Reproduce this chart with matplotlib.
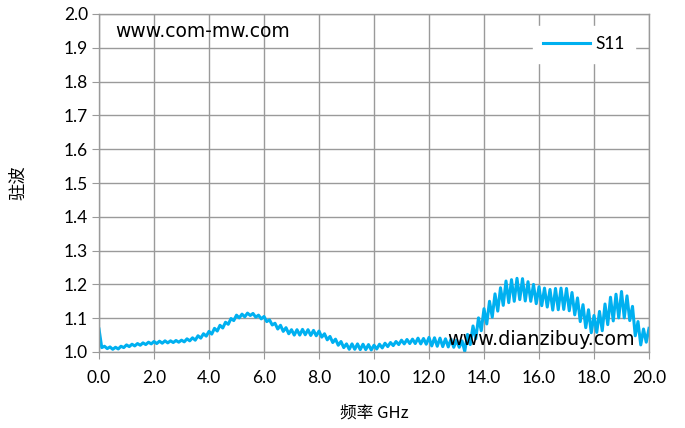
import matplotlib
matplotlib.use("Agg")
import matplotlib.pyplot as plt
import numpy as np

# S11 VSWR, one value every 0.1 GHz (0.0 .. 20.0)
FREQ_GHZ = np.round(np.arange(0, 201) * 0.1, 1)
VSWR = [
    1.068, 1.013, 1.017, 1.010, 1.015, 1.008, 1.014, 1.009, 1.017, 1.013,
    1.021, 1.016, 1.023, 1.018, 1.025, 1.020, 1.027, 1.022, 1.029, 1.024,
    1.031, 1.025, 1.032, 1.026, 1.033, 1.027, 1.033, 1.028, 1.034, 1.029,
    1.035, 1.030, 1.039, 1.033, 1.042, 1.035, 1.048, 1.041, 1.054, 1.047,
    1.061, 1.053, 1.070, 1.062, 1.079, 1.071, 1.088, 1.082, 1.099, 1.093,
    1.109, 1.101, 1.112, 1.104, 1.115, 1.108, 1.114, 1.103, 1.109, 1.098,
    1.105, 1.090, 1.095, 1.080, 1.085, 1.068, 1.079, 1.061, 1.072, 1.054,
    1.066, 1.050, 1.066, 1.050, 1.067, 1.051, 1.066, 1.049, 1.064, 1.048,
    1.062, 1.044, 1.054, 1.036, 1.046, 1.028, 1.038, 1.020, 1.031, 1.013,
    1.024, 1.008, 1.024, 1.008, 1.024, 1.007, 1.023, 1.007, 1.022, 1.006,
    1.020, 1.009, 1.023, 1.012, 1.026, 1.016, 1.028, 1.019, 1.031, 1.022,
    1.035, 1.024, 1.037, 1.025, 1.038, 1.025, 1.041, 1.024, 1.040, 1.023,
    1.043, 1.018, 1.042, 1.017, 1.041, 1.016, 1.039, 1.015, 1.038, 1.014,
    1.035, 1.014, 1.033, 1.002, 1.052, 1.022, 1.077, 1.039, 1.101, 1.063,
    1.128, 1.083, 1.150, 1.103, 1.172, 1.121, 1.190, 1.138, 1.210, 1.146,
    1.214, 1.150, 1.218, 1.155, 1.217, 1.151, 1.208, 1.150, 1.200, 1.143,
    1.193, 1.137, 1.189, 1.133, 1.185, 1.124, 1.188, 1.125, 1.189, 1.126,
    1.188, 1.122, 1.176, 1.110, 1.160, 1.090, 1.140, 1.072, 1.125, 1.057,
    1.108, 1.058, 1.120, 1.063, 1.142, 1.081, 1.162, 1.092, 1.171, 1.101,
    1.179, 1.101, 1.166, 1.093, 1.135, 1.048, 1.090, 1.021, 1.068, 1.029,
    1.070,
]
X_TICKS = np.arange(0, 21, 2)
Y_TICKS = np.round(np.arange(1.0, 2.01, 0.1), 1)

LINE_COLOR = "#00B0F0"
GRID_COLOR = "#9A9A9A"
TICK_FONT = ["Lato", "DejaVu Sans"]
CJK_FONT = ["Noto Sans CJK SC", "DejaVu Sans"]

fig = plt.figure(figsize=(6.85, 4.28), dpi=100)
ax = fig.add_axes([99 / 685, 76 / 428, 550 / 685, 338 / 428])

ax.plot(FREQ_GHZ, VSWR, color=LINE_COLOR, lw=2.2, label="S11", clip_on=True)

ax.set_xlim(0, 20)
ax.set_ylim(1.0, 2.0)
ax.set_xticks(X_TICKS)
ax.set_xticklabels([f"{v:.1f}" for v in X_TICKS])
ax.set_yticks(Y_TICKS)
ax.set_yticklabels([f"{v:.1f}" for v in Y_TICKS])
ax.grid(True, color=GRID_COLOR, lw=1.0)
ax.set_axisbelow(True)

for side in ("left", "bottom", "right", "top"):
    ax.spines[side].set_color(GRID_COLOR)
    ax.spines[side].set_linewidth(1.0)
ax.tick_params(axis="both", direction="out", length=5, color=GRID_COLOR,
               labelsize=12.5, pad=3)
for lab in ax.get_xticklabels() + ax.get_yticklabels():
    lab.set_family(TICK_FONT)
ax.tick_params(axis="x", pad=8)

ax.set_xlabel("频率 GHz", family=CJK_FONT, fontsize=12, labelpad=13)
ax.set_ylabel("驻波", family=CJK_FONT, fontsize=12.5, labelpad=26)

ax.text(0.6, 1.948, "www.com-mw.com", fontsize=13.5, family="DejaVu Sans",
        va="center", ha="left")
ax.text(12.65, 1.038, "www.dianzibuy.com", fontsize=13.8, family="DejaVu Sans",
        va="center", ha="left", zorder=5)

leg = ax.legend(loc="upper right", bbox_to_anchor=(0.99, 0.99), frameon=True,
                fancybox=False, handlelength=2.7, handletextpad=0.3,
                prop={"family": TICK_FONT, "size": 12.5}, borderpad=0.6)
leg.get_frame().set_edgecolor("white")
leg.get_frame().set_facecolor("white")
leg.get_frame().set_alpha(1.0)

fig.savefig("out.png", dpi=100)
